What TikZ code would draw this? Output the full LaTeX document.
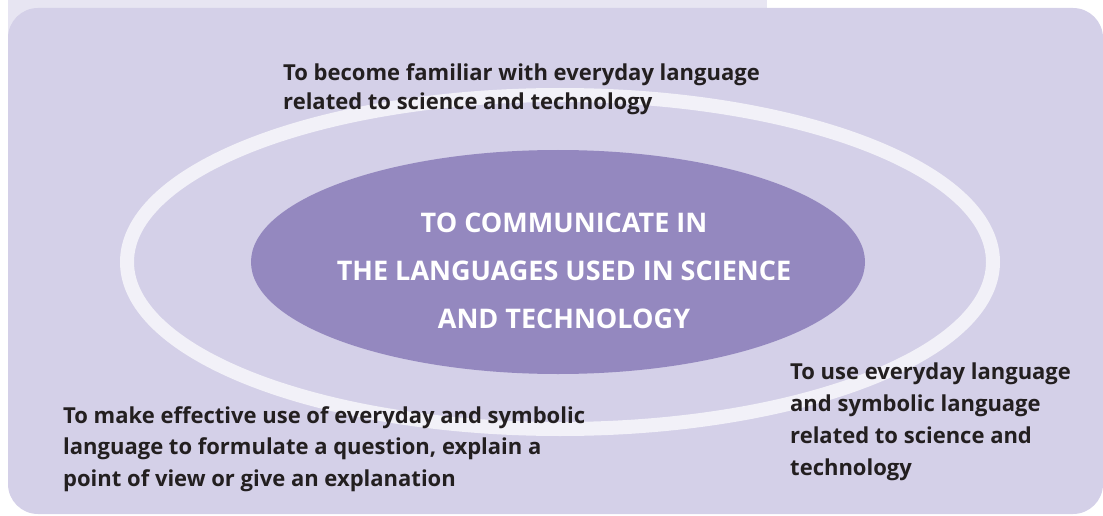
\documentclass[tikz,border=0pt]{standalone}
\usepackage{fontspec}
\setsansfont{Open Sans}
\usepackage{tikz}
\usetikzlibrary{shapes.geometric}
\definecolor{panelback}{HTML}{E7E5F2}
\definecolor{panel}{HTML}{D4D0E8}
\definecolor{ringline}{HTML}{F2F1F8}
\definecolor{corefill}{HTML}{9488BF}
\definecolor{ink}{HTML}{231F20}

\begin{document}
\begin{tikzpicture}[
        x=1pt, y=-1pt,
        aim/.style={align=left, inner sep=0pt, anchor=north west, text=ink,
            font=\sffamily\bfseries\fontsize{22}{31.5}\selectfont},
        core/.style={ellipse, fill=corefill, minimum width=614pt, minimum height=224pt},
        coretext/.style={align=center, inner sep=0pt, text=white,
            font=\sffamily\bfseries\fontsize{27}{48}\selectfont}
    ]
        \useasboundingbox (0,0) rectangle (1103,516);
        % backing panels
        \fill[panelback] (8,0) rectangle (767,60);
        \fill[panel, rounded corners=30pt] (8,8) rectangle (1103,514);
        % ring and central goal
        \node[ellipse, draw=ringline, line width=14pt, minimum width=866pt, minimum height=334pt] (ring) at (560,262) {};
        \node[core] (core) at (558,262) {};
        \node[coretext] (title) at (564,271) {TO COMMUNICATE IN\\THE LANGUAGES USED IN SCIENCE\\AND TECHNOLOGY};
        % the three aims
        \node[aim, font=\sffamily\bfseries\fontsize{22}{29}\selectfont] (familiar) at (283,63) {To become familiar with everyday language\\related to science and technology};
        \node[aim] (effective) at (63,406) {To make effective use of everyday and symbolic\\language to formulate a question, explain a\\point of view or give an explanation};
        \node[aim, font=\sffamily\bfseries\fontsize{22}{32}\selectfont] (everyday) at (790,363) {To use everyday language\\and symbolic language\\related to science and\\technology};
    \end{tikzpicture}
\end{document}
